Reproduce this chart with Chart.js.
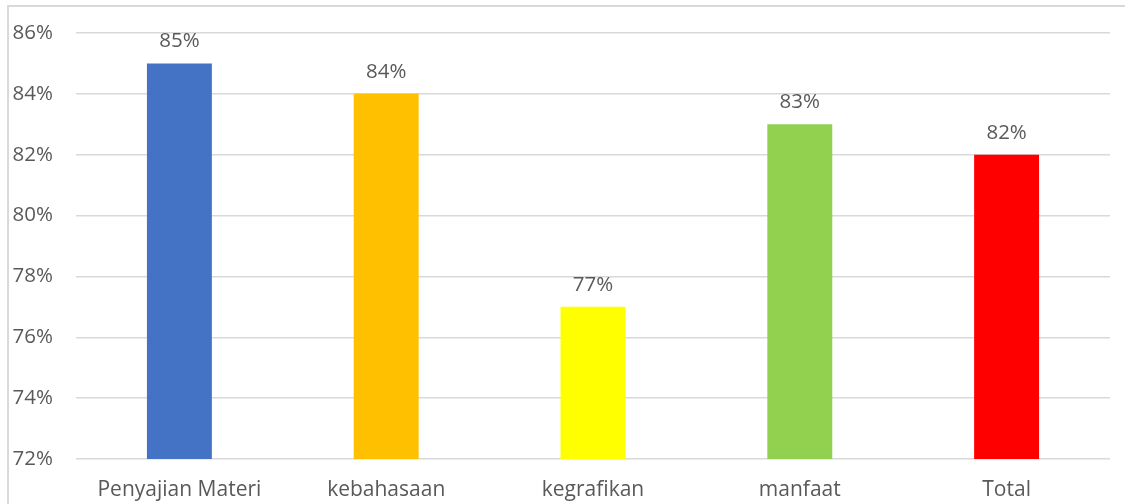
<!DOCTYPE html>
<html>
<head>
<meta charset="utf-8">
<script src="https://cdn.jsdelivr.net/npm/chart.js@4/dist/chart.umd.min.js"></script>
<style>
  html, body { margin: 0; padding: 0; background: #fff; overflow: hidden; }
  #wrap { position: relative; width: 1125px; height: 504px; }
  #frame { position: absolute; left: 7px; top: 5px; width: 1130px; height: 510px; border: 2px solid #d9d9d9; box-sizing: border-box; pointer-events: none; }
  canvas { position: absolute; left: 0; top: 0; }
</style>
</head>
<body>
<div id="wrap">
  <canvas id="c" width="1125" height="504"></canvas>
  <div id="frame"></div>
</div>
<script>
const categories = ["Penyajian Materi", "kebahasaan", "kegrafikan", "manfaat", "Total"];
const values = [85, 84, 77, 83, 82];
const barColors = ["#4472c4", "#ffc000", "#ffff00", "#92d050", "#ff0000"];
const yTicks = [72, 74, 76, 78, 80, 82, 84, 86];

const FONT = "'Open Sans', Lato, sans-serif";
const TEXT = "#595959";

const labelPlugin = {
  id: "barLabels",
  afterDatasetsDraw(chart) {
    const ctx = chart.ctx;
    const meta = chart.getDatasetMeta(0);
    ctx.save();
    ctx.font = "20.5px " + FONT;
    ctx.fillStyle = TEXT;
    ctx.textAlign = "center";
    ctx.textBaseline = "middle";
    meta.data.forEach((bar, i) => {
      ctx.fillText(values[i] + "%", bar.x, bar.y - 22);
    });
    ctx.restore();
  }
};

new Chart(document.getElementById("c"), {
  type: "bar",
  data: {
    labels: categories,
    datasets: [{
      data: values,
      backgroundColor: barColors,
      borderWidth: 0,
      categoryPercentage: 1,
      barPercentage: 0.314
    }]
  },
  options: {
    responsive: false,
    animation: false,
    devicePixelRatio: 1,
    layout: { padding: { left: 0, right: 15, top: 33, bottom: 0 } },
    plugins: { legend: { display: false }, tooltip: { enabled: false } },
    scales: {
      x: {
        grid: { display: false, drawTicks: false },
        border: { display: false },
        ticks: { color: TEXT, font: { family: FONT, size: 21 }, padding: 18, maxRotation: 0, autoSkip: false },
        afterFit(scale) { scale.height = 45; scale.paddingLeft = 0; scale.paddingRight = 0; }
      },
      y: {
        min: 72, max: 86,
        afterBuildTicks(scale) { scale.ticks = yTicks.map(v => ({ value: v })); },
        grid: { color: "#d9d9d9", lineWidth: 1.5, drawTicks: false },
        border: { display: false },
        ticks: { color: TEXT, font: { family: FONT, size: 20.5 }, padding: 23, callback: v => v + "%" },
        afterFit(scale) { scale.width = 76; scale.paddingTop = 0; scale.paddingBottom = 0; }
      }
    }
  },
  plugins: [labelPlugin]
});
</script>
</body>
</html>
